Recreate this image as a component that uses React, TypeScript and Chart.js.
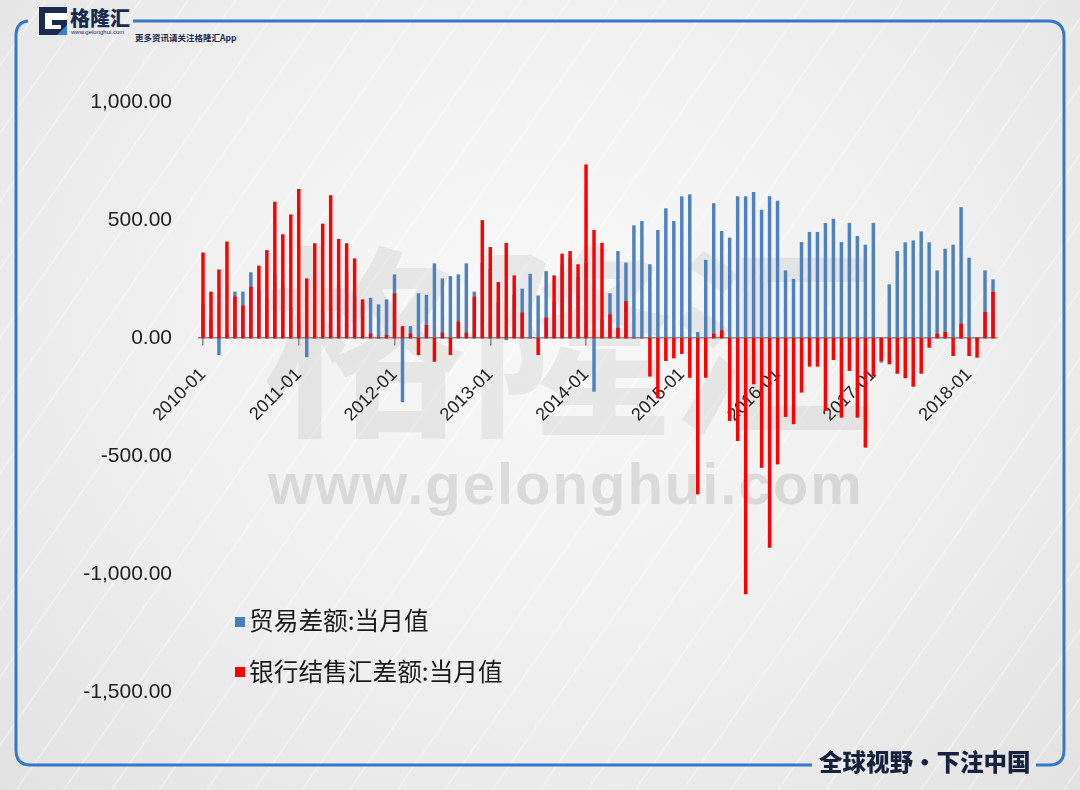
import React, { useEffect, useRef } from 'react';
import { Chart, registerables } from 'chart.js';

Chart.register(...registerables);

// ---- data (亿美元) ----
const years = ['2010', '2011', '2012', '2013', '2014', '2015', '2016', '2017', '2018'];
const monthCodes = ['01', '02', '03', '04', '05', '06', '07', '08', '09', '10', '11', '12'];
const categories: string[] = [];
years.forEach((y) => monthCodes.forEach((m) => categories.push(`${y}-${m}`)));
categories.length = 100; // 2010-01 .. 2018-04

const tradeBalance = [
  // 2010
  142, 76, -71, 17, 195, 195, 277, 200, 169, 272, 229, 131,
  // 2011
  64, -80, 1, 114, 130, 222, 294, 179, 145, 169, 141, 162,
  // 2012
  268, -271, 49, 188, 181, 315, 251, 261, 268, 315, 195, 316,
  // 2013
  292, 152, -8, 182, 208, 271, 179, 282, 152, 311, 338, 256,
  // 2014
  318, -226, 77, 188, 367, 318, 476, 494, 311, 456, 548, 494,
  // 2015
  599, 607, 24, 330, 570, 452, 424, 599, 599, 617, 542, 599,
  // 2016
  580, 285, 249, 405, 448, 448, 486, 504, 405, 486, 431, 394,
  // 2017
  486, -103, 226, 367, 404, 412, 450, 404, 285, 377, 394, 553,
  // 2018
  339, -10, 285, 247,
];

const fxSettlement = [
  // 2010
  361, 195, 289, 407, 174, 136, 216, 305, 371, 576, 438, 522,
  // 2011
  630, 251, 400, 483, 604, 418, 400, 336, 162, 18, 3, 12,
  // 2012
  188, 49, 18, -71, 54, -99, 21, -71, 68, 21, 174, 498,
  // 2013
  384, 236, 402, 264, 106, 0, -71, 85, 264, 356, 367, 311,
  // 2014
  734, 456, 402, 99, 42, 155, 0, 0, -162, -254, -96, -85,
  // 2015
  -66, -167, -661, -167, 17, 31, -350, -435, -1084, -195, -548, -887,
  // 2016
  -534, -333, -364, -230, -120, -120, -308, -92, -336, -138, -336, -463,
  // 2017
  -160, -96, -110, -150, -169, -205, -150, -40, 17, 24, -75, 59,
  // 2018
  -75, -82, 109, 194,
];

const yTicks = [-1500, -1000, -500, 0, 500, 1000];
const seriesNames = ['贸易差额:当月值', '银行结售汇差额:当月值'];
const seriesColors = ['#4f81bd', '#ff0000'];

const fmt = (v: number) =>
  v.toLocaleString('en-US', { minimumFractionDigits: 2, maximumFractionDigits: 2 });

function ChartCanvas() {
  const ref = useRef<HTMLCanvasElement | null>(null);
  useEffect(() => {
    if (!ref.current) return;
    const chart = new Chart(ref.current, {
      type: 'bar',
      data: {
        labels: categories,
        datasets: [
          {
            label: seriesNames[0],
            data: tradeBalance,
            backgroundColor: seriesColors[0],
            barThickness: 2.8,
            order: 2,
          },
          {
            label: seriesNames[1],
            data: fxSettlement,
            backgroundColor: seriesColors[1],
            barThickness: 2.8,
            order: 1,
          },
        ],
      },
      options: {
        animation: false,
        responsive: false,
        maintainAspectRatio: false,
        devicePixelRatio: 1,
        layout: { padding: { top: 102, right: 83, bottom: 98, left: 0 } },
        plugins: { legend: { display: false }, tooltip: { enabled: false } },
        scales: {
          x: {
            stacked: true,
            offset: true,
            position: { y: 0 } as any,
            grid: {
              display: true,
              drawOnChartArea: false,
              drawTicks: true,
              tickLength: 7,
              color: '#8a8a8a',
              lineWidth: 1.5,
              offset: false,
            },
            border: { display: true, color: '#8a8a8a', width: 1.5 },
            ticks: {
              autoSkip: false,
              maxRotation: 45,
              minRotation: 45,
              padding: 19,
              color: '#222222',
              font: { family: '"Liberation Sans", Arial, sans-serif', size: 18 },
            },
            afterBuildTicks: (axis: any) => {
              axis.ticks = axis.ticks.filter((t: any) => t.value % 12 === 0);
            },
          },
          y: {
            stacked: false,
            min: yTicks[0],
            max: yTicks[yTicks.length - 1],
            grid: { display: false, drawTicks: false },
            border: { display: false },
            ticks: {
              stepSize: 500,
              padding: 27,
              color: '#222222',
              font: { family: '"Liberation Sans", Arial, sans-serif', size: 21 },
              callback: (v: any) => fmt(Number(v)),
            },
            afterFit: (s: any) => {
              s.width = 199;
            },
          },
        },
      },
    });
    return () => chart.destroy();
  }, []);
  return (
    <canvas
      ref={ref}
      width={1080}
      height={790}
      style={{ position: 'absolute', left: 0, top: 0, width: 1080, height: 790 }}
    />
  );
}

export default function App() {
  const cjk = '"Noto Sans CJK SC", "Noto Sans", sans-serif';
  return (
    <div
      style={{
        position: 'absolute',
        left: 0,
        top: 0,
        width: 1080,
        height: 790,
        overflow: 'hidden',
        background:
          'repeating-linear-gradient(125deg, rgba(255,255,255,0) 0px, rgba(255,255,255,0) 36px, rgba(255,255,255,0.45) 37px, rgba(255,255,255,0) 39px), radial-gradient(ellipse at 50% 40%, #f8f8f8 0%, #efefef 55%, #e2e2e2 100%)',
      }}
    >
      {/* watermark */}
      <div
        style={{
          position: 'absolute',
          left: 262,
          top: 228,
          fontFamily: cjk,
          fontWeight: 700,
          fontSize: 205,
          lineHeight: '205px',
          color: 'rgba(0,0,0,0.06)',
          whiteSpace: 'nowrap',
        }}
      >
        格隆汇
      </div>
      <div
        style={{
          position: 'absolute',
          left: 268,
          top: 455,
          fontFamily: '"Liberation Sans", Arial, sans-serif',
          fontWeight: 700,
          fontSize: 58,
          lineHeight: '58px',
          letterSpacing: 2,
          color: 'rgba(0,0,0,0.1)',
          whiteSpace: 'nowrap',
        }}
      >
        www.gelonghui.com
      </div>

      {/* frame */}
      <svg width={1080} height={790} style={{ position: 'absolute', left: 0, top: 0 }}>
        <path
          d="M 28 21 Q 17 22 16 34 L 16 750 Q 16 765 31 765 L 812 765"
          stroke="#3478c6"
          strokeWidth={3}
          fill="none"
        />
        <path
          d="M 1036 765 L 1049 765 Q 1064 765 1064 750 L 1064 37 Q 1064 21 1048 21 L 133 21"
          stroke="#3478c6"
          strokeWidth={3}
          fill="none"
        />
        {/* logo icon */}
        <rect x={39} y={7} width={28} height={28} fill="#1b2a4e" />
        <rect x={45} y={13} width={22} height={7} fill="#ffffff" />
        <rect x={45} y={13} width={7} height={16} fill="#ffffff" />
        <rect x={45} y={25} width={16} height={4} fill="#ffffff" />
        <polygon points="57,35 67,25 67,35" fill="#3a7fd0" />
      </svg>
      <div
        style={{
          position: 'absolute',
          left: 70,
          top: 6,
          fontFamily: cjk,
          fontWeight: 900,
          fontSize: 20,
          lineHeight: '24px',
          color: '#1b2a4e',
          whiteSpace: 'nowrap',
        }}
      >
        格隆汇
      </div>
      <div
        style={{
          position: 'absolute',
          left: 71,
          top: 29,
          fontFamily: '"Liberation Sans", Arial, sans-serif',
          fontSize: 6,
          lineHeight: '7px',
          color: '#1b2a4e',
          whiteSpace: 'nowrap',
        }}
      >
        www.gelonghui.com
      </div>
      <div
        style={{
          position: 'absolute',
          left: 135,
          top: 32,
          fontFamily: cjk,
          fontWeight: 700,
          fontSize: 8.5,
          lineHeight: '11px',
          color: '#1b2a4e',
          whiteSpace: 'nowrap',
        }}
      >
        更多资讯请关注格隆汇App
      </div>

      <ChartCanvas />

      {/* legend */}
      <div style={{ position: 'absolute', left: 235, top: 617, width: 10, height: 10, background: '#4a7ebb' }} />
      <div
        style={{
          position: 'absolute',
          left: 249,
          top: 604,
          fontFamily: cjk,
          fontSize: 24.7,
          lineHeight: '30px',
          color: '#1a1a1a',
          whiteSpace: 'nowrap',
        }}
      >
        {seriesNames[0]}
      </div>
      <div style={{ position: 'absolute', left: 235, top: 667, width: 10, height: 10, background: '#ff0000' }} />
      <div
        style={{
          position: 'absolute',
          left: 249,
          top: 655,
          fontFamily: cjk,
          fontSize: 24.7,
          lineHeight: '30px',
          color: '#1a1a1a',
          whiteSpace: 'nowrap',
        }}
      >
        {seriesNames[1]}
      </div>

      {/* footer slogan */}
      <div
        style={{
          position: 'absolute',
          left: 819,
          top: 747,
          fontFamily: cjk,
          fontWeight: 900,
          fontSize: 23.5,
          lineHeight: '28px',
          color: '#16213d',
          whiteSpace: 'nowrap',
        }}
      >
        全球视野・下注中国
      </div>
    </div>
  );
}
